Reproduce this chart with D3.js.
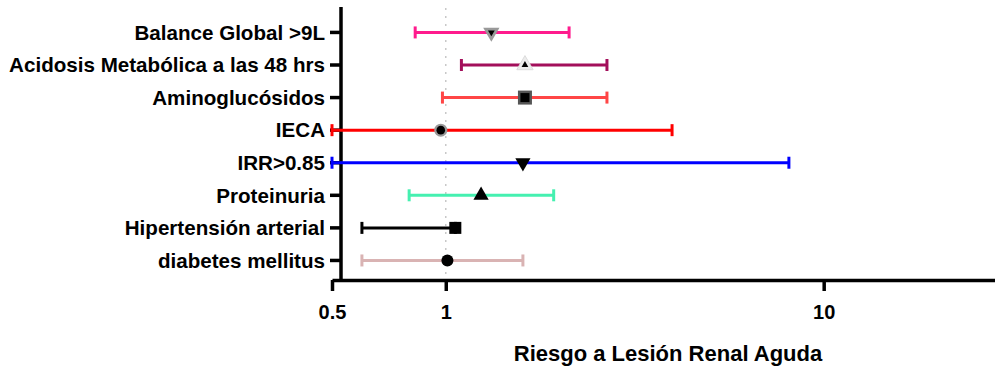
<!DOCTYPE html>
<html>
<head>
<meta charset="utf-8">
<script src="https://cdn.jsdelivr.net/npm/d3@7"></script>
<style>
  body { margin: 0; background: #fff; }
  svg { display: block; font-family: "Liberation Sans", Arial, sans-serif; }
</style>
</head>
<body>
<svg width="995" height="369"></svg>
<script>
const labels = ['Balance Global >9L', 'Acidosis Metabólica a las 48 hrs', 'Aminoglucósidos', 'IECA',
    'IRR>0.85', 'Proteinuria', 'Hipertensión arterial', 'diabetes mellitus']
const estimate = [1.32, 1.62, 1.62, 0.97, 1.60, 1.24, 1.06, 1.01]
const lower = [0.83, 1.10, 0.98, 0.50, 0.50, 0.80, 0.60, 0.60]
const upper = [2.12, 2.67, 2.67, 3.97, 8.09, 1.93, 1.06, 1.60]
const colors = ['#ff1b8d', '#a30f5b', '#ff4646', '#ff0000', '#0000ff', '#45f0b0', '#000000', '#d9b3b3']
const shapes = ['tri-down-gray', 'tri-up-light', 'square-dark', 'circle-gray', 'tri-down', 'tri-up', 'square', 'circle']
const xTicks = [0.5, 1, 10]
const xTitle = 'Riesgo a Lesión Renal Aguda'

const svg = d3.select('svg')
const x = d3.scaleLog().domain([0.5, 30]).range([332, 1004])
const y = d3.scaleLinear().domain([0.4, 8.75]).range([280, 8])
const rowY = i => y(labels.length - i)

// reference line at 1
svg.append('line')
    .attr('x1', x(1)).attr('x2', x(1))
    .attr('y1', 8).attr('y2', 280)
    .attr('stroke', '#c8c8c8')
    .attr('stroke-width', 1.5)
    .attr('stroke-dasharray', '2,6')

// x axis
const xAxis = svg.append('g')
    .attr('transform', 'translate(0,280)')
    .call(d3.axisBottom(x).tickValues(xTicks).tickFormat(d3.format('')).tickSize(11).tickPadding(14).tickSizeOuter(0))
xAxis.select('.domain').attr('stroke', '#000').attr('stroke-width', 3.5)
xAxis.selectAll('.tick line').attr('stroke', '#000').attr('stroke-width', 3.5)
xAxis.selectAll('.tick text').attr('fill', '#000').attr('font-size', 20).attr('font-weight', 'bold')
    .attr('font-family', '"Liberation Sans", Arial, sans-serif')

// y axis
svg.append('line')
    .attr('x1', 341).attr('x2', 341)
    .attr('y1', 7).attr('y2', 281.5)
    .attr('stroke', '#000').attr('stroke-width', 3.5)

const rows = svg.append('g').selectAll('g')
    .data(labels)
    .enter()
    .append('g')

rows.append('line')
    .attr('x1', 330).attr('x2', 341)
    .attr('y1', (d, i) => rowY(i)).attr('y2', (d, i) => rowY(i))
    .attr('stroke', '#000').attr('stroke-width', 3.5)

rows.append('text')
    .attr('x', 325)
    .attr('y', (d, i) => rowY(i))
    .attr('dy', '0.35em')
    .attr('text-anchor', 'end')
    .attr('font-size', 20.6)
    .attr('font-weight', 'bold')
    .text(d => d)

// error bars
const bars = svg.append('g').selectAll('g')
    .data(labels)
    .enter()
    .append('g')
    .attr('stroke', (d, i) => colors[i])
    .attr('stroke-width', 3)

bars.append('line')
    .attr('x1', (d, i) => x(lower[i])).attr('x2', (d, i) => x(upper[i]))
    .attr('y1', (d, i) => rowY(i)).attr('y2', (d, i) => rowY(i))
bars.append('line')
    .attr('x1', (d, i) => x(lower[i])).attr('x2', (d, i) => x(lower[i]))
    .attr('y1', (d, i) => rowY(i) - 6).attr('y2', (d, i) => rowY(i) + 6)
bars.append('line')
    .attr('x1', (d, i) => x(upper[i])).attr('x2', (d, i) => x(upper[i]))
    .attr('y1', (d, i) => rowY(i) - 6).attr('y2', (d, i) => rowY(i) + 6)

// markers
const tri = d3.symbol().type(d3.symbolTriangle)
const marks = svg.append('g').selectAll('g')
    .data(labels)
    .enter()
    .append('g')
    .attr('transform', (d, i) => `translate(${x(estimate[i])},${rowY(i)})`)

marks.each(function(d, i) {
    const g = d3.select(this)
    const s = shapes[i]
    if (s.startsWith('tri')) {
        const rot = s.includes('down') ? 'rotate(180)' : ''
        const outer = s.includes('gray') ? '#999' : s.includes('light') ? '#ececec' : '#000'
        const big = s.includes('gray') || s.includes('light')
        g.append('path').attr('d', tri.size(big ? 115 : 100)()).attr('transform', rot)
            .attr('fill', outer)
            .attr('stroke', s.includes('light') ? '#dcdcdc' : 'none')
        if (big) {
            g.append('path').attr('d', tri.size(20)()).attr('transform', rot).attr('fill', '#000')
        }
    } else if (s.startsWith('square')) {
        if (s.includes('dark')) {
            g.append('rect').attr('x', -7).attr('y', -7).attr('width', 14).attr('height', 14).attr('fill', '#555')
            g.append('rect').attr('x', -4.5).attr('y', -4.5).attr('width', 9).attr('height', 9).attr('fill', '#000')
        } else {
            g.append('rect').attr('x', -6).attr('y', -6).attr('width', 12).attr('height', 12).attr('fill', '#000')
        }
    } else {
        if (s.includes('gray')) {
            g.append('circle').attr('r', 6.5).attr('fill', '#999')
            g.append('circle').attr('r', 4.3).attr('fill', '#000')
        } else {
            g.append('circle').attr('r', 6).attr('fill', '#000')
        }
    }
})

svg.append('text')
    .attr('x', (x.range()[0] + x.range()[1]) / 2)
    .attr('y', 361)
    .attr('text-anchor', 'middle')
    .attr('font-size', 22)
    .attr('font-weight', 'bold')
    .text(xTitle)
</script>
</body>
</html>
